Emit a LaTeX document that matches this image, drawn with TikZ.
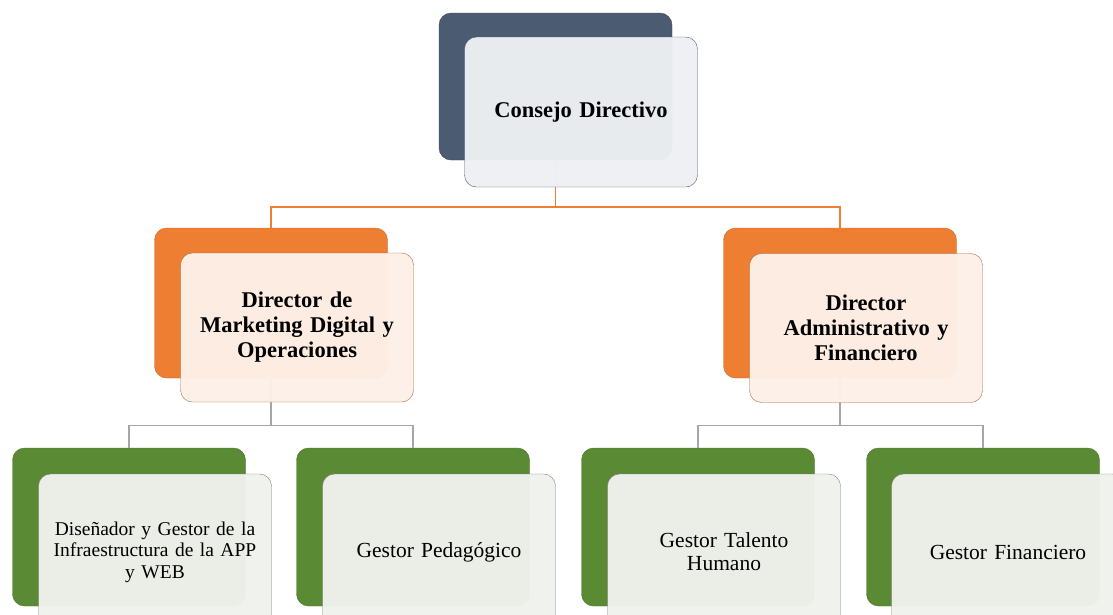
\documentclass[tikz,border=0pt]{standalone}
\usepackage{fontspec}
\setmainfont{Liberation Serif}
\definecolor{slate}{HTML}{4A5B72}
\definecolor{slatefill}{HTML}{EEF0F3}
\definecolor{orng}{HTML}{EE7E32}
\definecolor{orngfill}{HTML}{FDF0E7}
\definecolor{orngedge}{HTML}{A86B45}
\definecolor{grn}{HTML}{5A8A34}
\definecolor{grnfill}{HTML}{EFF2EC}
\definecolor{grnedge}{HTML}{7F7F7F}
\begin{document}
\begin{tikzpicture}
  [x=1pt,y=-1pt,
   box/.style={rectangle,rounded corners=12pt,minimum width=233pt,inner sep=0pt},
   back/.style={box,fill=#1,draw=#1!85!black},
   front/.style={box,fill opacity=.97,text opacity=1,align=center,text width=220pt},
   cdfront/.style={front,minimum height=150pt,fill=slatefill,draw=slate,
     font=\fontsize{22.5}{25}\selectfont\bfseries},
   dirfront/.style={front,minimum height=149pt,fill=orngfill,draw=orngedge,
     font=\fontsize{22.5}{25}\selectfont\bfseries},
   gesfront/.style={front,minimum height=156pt,fill=grnfill,draw=grnedge,
     font=\fontsize{21.5}{23}\selectfont},
   orline/.style={draw=orng,line width=1.6pt},
   grline/.style={draw=black!35,line width=1.4pt}]
  \useasboundingbox (0,0) rectangle (1113,614);

  % back boxes
  \node[back=slate,minimum height=147pt] (cdb) at (555.5,86.5) {};
  \node[back=orng,minimum height=150pt] (dmb) at (271,303) {};
  \node[back=orng,minimum height=150pt] (dab) at (840,303) {};
  \node[back=grn,minimum height=158pt] (dsb) at (129,527) {};
  \node[back=grn,minimum height=158pt] (gpb) at (413,527) {};
  \node[back=grn,minimum height=158pt] (gtb) at (698,527) {};
  \node[back=grn,minimum height=158pt] (gfb) at (983,527) {};

  \foreach \to in {dmb,dab}
    \draw[orline] (cdb.south) -- ++(0,47) -| (\to.north);
  \foreach \from/\to in {dmb/dsb,dmb/gpb,dab/gtb,dab/gfb}
    \draw[grline] (\from.south) -- ++(0,47) -| (\to.north);

  % front boxes
  \node[cdfront] (cd) at (581,112) {Consejo Directivo};
  \node[dirfront] (dm) at (297,327.5) {Director de\\Marketing Digital y\\Operaciones};
  \node[dirfront] (da) at (866,328) {Director\\Administrativo y\\Financiero};
  \node[gesfront,font=\fontsize{19.5}{21.5}\selectfont] (ds) at (155,552)
    {Diseñador y Gestor de la\\Infraestructura de la APP\\y WEB};
  \node[gesfront] (gp) at (439,552) {Gestor Pedagógico};
  \node[gesfront] (gt) at (724,552) {Gestor Talento\\Humano};
  \node[gesfront] (gf) at (1008,552) {Gestor Financiero};

\end{tikzpicture}
\end{document}
